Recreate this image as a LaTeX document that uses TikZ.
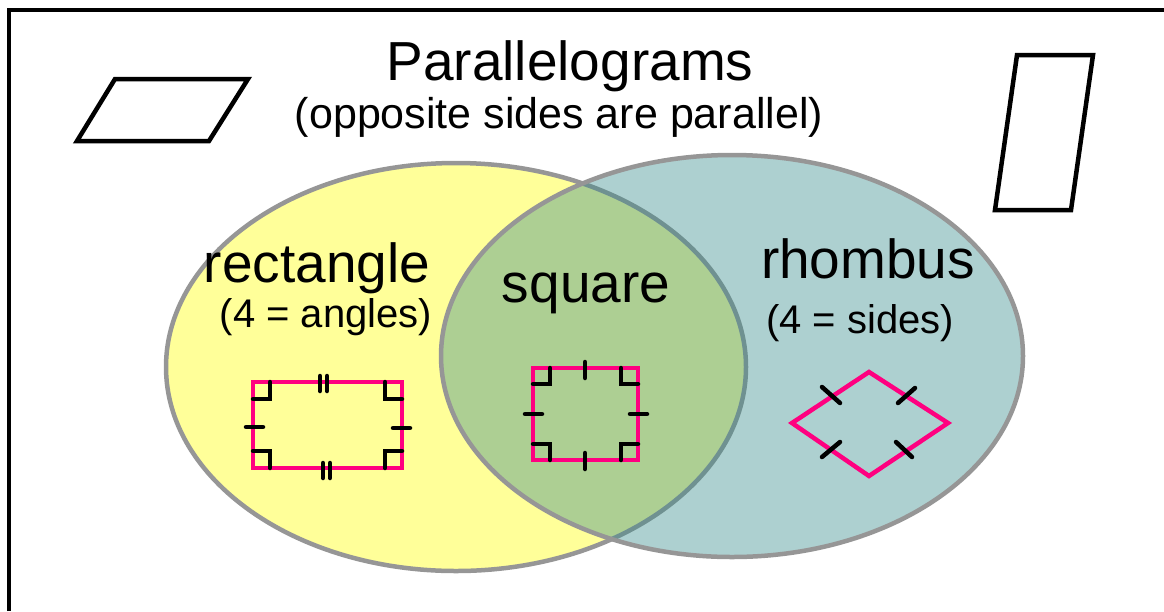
\documentclass[tikz,border=0pt]{standalone}
\usepackage{fontspec}
\setmainfont{Liberation Sans}
\definecolor{vyellow}{RGB}{255,255,153}
\definecolor{vblue}{RGB}{57,140,140}
\definecolor{vgray}{RGB}{150,150,150}
\definecolor{mpink}{RGB}{255,0,128}
\begin{document}
\begin{tikzpicture}[x=1pt,y=-1pt,
  frameline/.style={black, line width=4pt},
  outline/.style={black, line width=4.5pt, line join=miter},
  vennline/.style={draw=vgray, line width=4.5pt},
  pinkline/.style={draw=mpink, line width=4.5pt},
  tickmark/.style={black, line width=4.5pt, line cap=round},
  anglemark/.style={black, line width=4.5pt, line cap=round, line join=miter},
  bigtext/.style={font=\fontsize{55}{60}\selectfont, anchor=base, inner sep=0pt},
  subtext/.style={font=\fontsize{43}{48}\selectfont, anchor=base, inner sep=0pt},
  smalltext/.style={font=\fontsize{40}{46}\selectfont, anchor=base, inner sep=0pt},
]
\useasboundingbox (0,0) rectangle (1164,611);
% frame (top and left edges only visible)
\draw[frameline] (9,611) -- (9,10) -- (1164,10);

% Venn ellipses
\fill[vyellow] (456,367) ellipse [x radius=290, y radius=204];
\draw[vennline] (456,367) ellipse [x radius=290, y radius=204];
\fill[vblue, fill opacity=0.41] (732,356) ellipse [x radius=291, y radius=201];
\draw[vennline] (732,356) ellipse [x radius=291, y radius=201];

% free parallelograms
\draw[outline] (115,79) -- (248,79) -- (209,141) -- (77,141) -- cycle;
\draw[outline] (1017,55) -- (1093,55) -- (1071,210) -- (995,210) -- cycle;

% rectangle
\draw[pinkline] (253,382) rectangle (402,468);
\draw[anglemark] (270,382) -- (270,399) -- (253,399);
\draw[anglemark] (385,382) -- (385,399) -- (402,399);
\draw[anglemark] (253,451) -- (270,451) -- (270,468);
\draw[anglemark] (402,451) -- (385,451) -- (385,468);
\draw[tickmark] (246,427) -- (263,427);
\draw[tickmark] (393,428) -- (410,428);
\draw[tickmark] (320,376) -- (320,391);
\draw[tickmark] (327,376) -- (327,391);
\draw[tickmark] (323,463) -- (323,478);
\draw[tickmark] (330,463) -- (330,478);

% square
\draw[pinkline] (533,368) rectangle (638,460);
\draw[anglemark] (550,368) -- (550,384) -- (533,384);
\draw[anglemark] (621,368) -- (621,384) -- (638,384);
\draw[anglemark] (533,444) -- (550,444) -- (550,460);
\draw[anglemark] (638,444) -- (621,444) -- (621,460);
\draw[tickmark] (585,362) -- (585,378);
\draw[tickmark] (585,453) -- (585,469);
\draw[tickmark] (525,414) -- (542,414);
\draw[tickmark] (630,414) -- (647,414);

% rhombus
\draw[pinkline, line join=miter] (869,372) -- (948,423) -- (869,476) -- (792,423) -- cycle;
\draw[tickmark] (822,387) -- (840,403);
\draw[tickmark] (898,403) -- (915,388);
\draw[tickmark] (822,457) -- (840,442);
\draw[tickmark] (896,442) -- (912,457);

% texts
\node[bigtext] (title) at (570,80) {Parallelograms};
\node[subtext] (subtitle) at (559,128) {(opposite sides are parallel)};
\node[bigtext] (rect) at (317,282) {rectangle};
\node[smalltext] (rectsub) at (326,327) {(4 = angles)};
\node[bigtext] (sq) at (586,302) {square};
\node[bigtext] (rh) at (868,278) {rhombus};
\node[smalltext] (rhsub) at (860,333) {(4 = sides)};
\end{tikzpicture}
\end{document}
